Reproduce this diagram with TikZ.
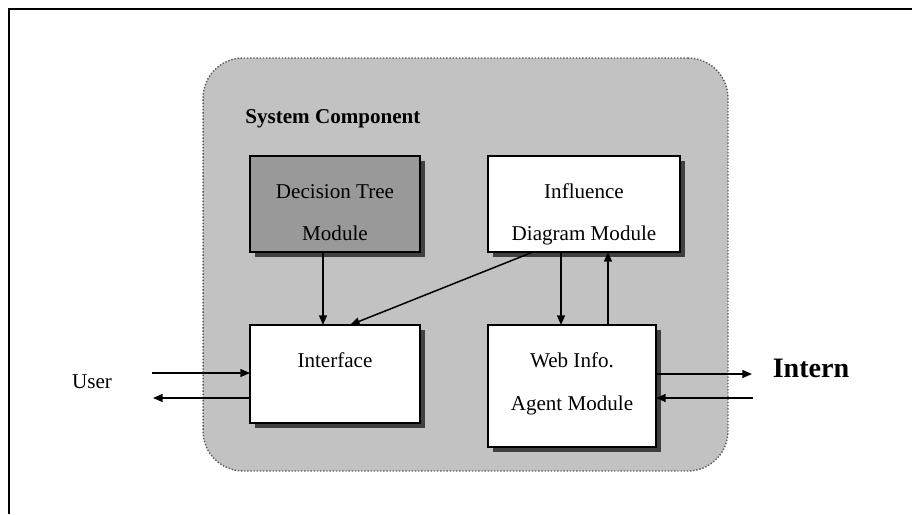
\documentclass[tikz,border=0pt]{standalone}
\usepackage{fontspec}
\setmainfont{Liberation Serif}
\usetikzlibrary{arrows.meta,calc,shadows}

\begin{document}
\begin{tikzpicture}[x=0.02cm,y=-0.02cm,
  modbox/.style={draw=black, line width=1.2pt, inner sep=0pt, outer sep=0pt,
    drop shadow={shadow xshift=0.1cm, shadow yshift=-0.1cm, fill=black!75, opacity=1}},
  lbl/.style={font=\fontsize{12}{14}\selectfont, anchor=base, inner sep=0pt},
  arr/.style={line width=0.85pt, -{Triangle[length=5.5pt,width=4.5pt]}},
]
\useasboundingbox (0,0) rectangle (912,514);

% page frame
\coordinate (fbl) at (9,514);
\coordinate (ftl) at (9,9);
\coordinate (ftr) at (912,9);
\draw[line width=1pt] (fbl) -- (ftl) -- (ftr);

% system container
\node[name=sys, draw=black!65, densely dotted, line width=0.8pt, fill=black!24,
      rounded corners=0.8cm, minimum width=10.5cm, minimum height=8.26cm, inner sep=0pt]
      at (465.5,264.5) {};
\node[name=systitle, font=\bfseries\fontsize{12}{14}\selectfont, anchor=base west, inner sep=0pt]
      at (245,123) {System Component};

% modules
\node[modbox, name=dt, fill=black!40, minimum width=3.4cm, minimum height=1.92cm] at (335,204) {};
\node[modbox, name=infl, fill=white, minimum width=3.84cm, minimum height=1.92cm] at (584,204) {};
\node[modbox, name=iface, fill=white, minimum width=3.4cm, minimum height=1.96cm] at (335,374) {};
\node[modbox, name=web, fill=white, minimum width=3.36cm, minimum height=2.44cm] at (572,386) {};

% module texts
\node[lbl, name=dtA] at (335,198) {Decision Tree};
\node[lbl, name=dtB] at (335,240) {Module};
\node[lbl, name=inA] at (584,198) {Influence};
\node[lbl, name=inB] at (584,240) {Diagram Module};
\node[lbl, name=ifA] at (335,367) {Interface};
\node[lbl, name=wbA] at (572,367) {Web Info.};
\node[lbl, name=wbB] at (572,410) {Agent Module};

% outside labels
\node[lbl, name=user] at (92,388) {User};
\node[name=intern, font=\bfseries\fontsize{16}{18}\selectfont, anchor=base, inner sep=0pt]
      at (811,377) {Intern};

% internal connectors
\draw[arr] ($(dt.south)+(-12,0)$) -- ($(iface.north)+(-12,0)$);
\draw[arr] ($(infl.south)+(-51,0)$) -- ($(iface.north)+(15,0)$);
\draw[arr] ($(infl.south)+(-23,0)$) -- ($(web.north)+(-11,0)$);
\draw[arr] ($(web.north)+(36,0)$) -- ($(infl.south)+(24,0)$);

% user side
\coordinate (uin) at (152,373);
\coordinate (uout) at (153,398);
\draw[arr] (uin) -- (uin -| iface.west);
\draw[arr] (uout -| iface.west) -- (uout);

% internet side
\coordinate (nout) at (752,374);
\coordinate (nin) at (753,398);
\draw[arr] (nout -| web.east) -- (nout);
\draw[arr] (nin) -- (nin -| web.east);
\end{tikzpicture}
\end{document}
